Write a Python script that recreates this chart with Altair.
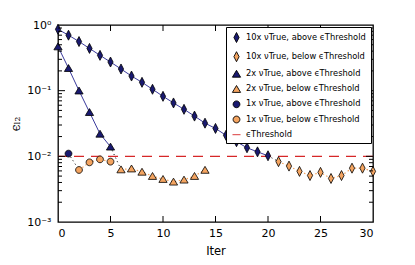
import altair as alt
import pandas as pd

# ---- data ----
x10_above_x = list(range(0, 21))
x10_above_y = [0.86, 0.70, 0.56, 0.44, 0.345, 0.273, 0.214, 0.167, 0.134, 0.105,
               0.082, 0.065, 0.052, 0.041, 0.032, 0.0266, 0.0209, 0.0167, 0.0135,
               0.0117, 0.0102]
x10_below_x = list(range(21, 31))
x10_below_y = [0.0083, 0.0071, 0.0059, 0.0051, 0.0057, 0.0046, 0.0051, 0.0066,
               0.0066, 0.0059]
x2_above_x = list(range(0, 6))
x2_above_y = [0.47, 0.22, 0.10, 0.047, 0.022, 0.014]
x2_below_x = list(range(6, 15))
x2_below_y = [0.0063, 0.0065, 0.0058, 0.0050, 0.0045, 0.0041, 0.0044, 0.0050, 0.0062]
x1_above_x = [1]
x1_above_y = [0.011]
x1_below_x = [2, 3, 4, 5]
x1_below_y = [0.0062, 0.0081, 0.0090, 0.0083]
threshold = [0.01]

labels = [
    "10x \u03bdTrue, above \u03f5Threshold",
    "10x \u03bdTrue, below \u03f5Threshold",
    "2x \u03bdTrue, above \u03f5Threshold",
    "2x \u03bdTrue, below \u03f5Threshold",
    "1x \u03bdTrue, above \u03f5Threshold",
    "1x \u03bdTrue, below \u03f5Threshold",
    "\u03f5Threshold",
]
x_ticks = [0, 5, 10, 15, 20, 25, 30]
y_ticks = [0.001, 0.01, 0.1, 1]
y_minor = [k * 10.0 ** e for e in (-3, -2, -1) for k in range(2, 10)]

NAVY = "#191970"
ORANGE = "#f4a460"
RED = "#d62728"
LINE_NAVY = "#3a3a9c"

series = [
    (x10_above_x, x10_above_y, labels[0], "above", "10x"),
    (x10_below_x, x10_below_y, labels[1], "below", "10x"),
    (x2_above_x, x2_above_y, labels[2], "above", "2x"),
    (x2_below_x, x2_below_y, labels[3], "below", "2x"),
    (x1_above_x, x1_above_y, labels[4], "above", "1x"),
    (x1_below_x, x1_below_y, labels[5], "below", "1x"),
]
rows = []
for xs, ys, lab, kind, grp in series:
    for a, b in zip(xs, ys):
        rows.append({"x": a, "y": b, "series": lab, "kind": kind, "grp": grp})
df = pd.DataFrame(rows)

# connectors between last "above" and first "below" point of each group
conn = []
for i in range(0, 6, 2):
    xa, ya, _, _, grp = series[i]
    xb, yb, _, _, _ = series[i + 1]
    conn.append({"x": xa[-1], "y": ya[-1], "grp": grp})
    conn.append({"x": xb[0], "y": yb[0], "grp": grp})
conn_df = pd.DataFrame(conn)

W, H = 315, 197
xs_ = alt.Scale(domain=[0, 30], nice=False, zero=False)
ys_ = alt.Scale(type="log", domain=[0.001, 1], nice=False)

x_axis = alt.Axis(values=x_ticks, ticks=False, domain=False, grid=False,
                  labelPadding=5, titlePadding=7, labelFontSize=11,
                  titleFontSize=11.5, titleFontWeight="normal",
                  labelFont="DejaVu Sans", titleFont="DejaVu Sans",
                  labelColor="black", titleColor="black")
y_axis = alt.Axis(values=y_ticks, ticks=False, domain=False, grid=False,
                  labelPadding=7, titlePadding=4, labelFontSize=11,
                  titleFontSize=12, titleFontWeight="normal",
                  labelFont="DejaVu Sans", titleFont="DejaVu Serif",
                  labelColor="black", titleColor="black",
                  labelExpr="'10' + (datum.value >= 1 ? '\u2070' : datum.value >= 0.1 ? '\u207b\u00b9' : datum.value >= 0.01 ? '\u207b\u00b2' : '\u207b\u00b3')")


def X(field):
    return alt.X(field, scale=xs_, title="Iter", axis=x_axis)


def Y(field):
    return alt.Y(field, scale=ys_, title="\u03f5\u2097\u2082", axis=y_axis)


DIAMOND = "M0,-1L0.52,0L0,1L-0.52,0Z"
TRI = "M0,-0.72L0.82,0.66L-0.82,0.66Z"
CIRC = "M-0.68,0A0.68,0.68 0 1,0 0.68,0A0.68,0.68 0 1,0 -0.68,0Z"
STROKE = "M-0.8,0L0.8,0"

leg = alt.Legend(title=None)
fill_enc = alt.Fill("series:N", scale=alt.Scale(domain=labels,
                    range=[NAVY, ORANGE, NAVY, ORANGE, NAVY, ORANGE, "transparent"]),
                    legend=leg)
shape_enc = alt.Shape("series:N", scale=alt.Scale(domain=labels,
                      range=[DIAMOND, DIAMOND, TRI, TRI, CIRC, CIRC, STROKE]),
                      legend=leg)
stroke_enc = alt.Stroke("series:N", scale=alt.Scale(domain=labels,
                        range=["black"] * 6 + [RED]), legend=leg)

thr = alt.Chart(pd.DataFrame({"t": threshold})).mark_rule(
    color=RED, strokeWidth=1.3, strokeDash=[10, 7]).encode(y=Y("t:Q"))

lines_above = alt.Chart(df).transform_filter(alt.datum.kind == "above").mark_line(
    color=LINE_NAVY, strokeWidth=1).encode(
    x=X("x:Q"), y=Y("y:Q"), detail="series:N")
lines_below = alt.Chart(df).transform_filter(alt.datum.kind == "below").mark_line(
    color=ORANGE, strokeWidth=1.2, strokeDash=[1.5, 2.5]).encode(
    x=X("x:Q"), y=Y("y:Q"), detail="series:N")
conn_lines = alt.Chart(conn_df).mark_line(
    color="black", strokeWidth=1, strokeDash=[1, 3]).encode(
    x=X("x:Q"), y=Y("y:Q"), detail="grp:N")

points = alt.Chart(df).mark_point(filled=True, size=100, strokeWidth=0.8,
                                  opacity=1).encode(
    x=X("x:Q"), y=Y("y:Q"),
    fill=fill_enc, shape=shape_enc, stroke=stroke_enc)

# inward ticks (matplotlib classic style)
xt = pd.DataFrame({"v": x_ticks[1:-1]})
yt = pd.DataFrame({"v": y_ticks[1:-1]})
ym = pd.DataFrame({"v": y_minor})
tick_style = dict(color="black", strokeWidth=1)
t_bottom = alt.Chart(xt).mark_rule(**tick_style).encode(x=X("v:Q"), y=alt.value(H), y2=alt.value(H - 6))
t_top = alt.Chart(xt).mark_rule(**tick_style).encode(x=X("v:Q"), y=alt.value(0), y2=alt.value(6))
t_left = alt.Chart(yt).mark_rule(**tick_style).encode(y=Y("v:Q"), x=alt.value(0), x2=alt.value(7))
t_right = alt.Chart(yt).mark_rule(**tick_style).encode(y=Y("v:Q"), x=alt.value(W), x2=alt.value(W - 7))
m_left = alt.Chart(ym).mark_rule(**tick_style).encode(y=Y("v:Q"), x=alt.value(0), x2=alt.value(4))
m_right = alt.Chart(ym).mark_rule(**tick_style).encode(y=Y("v:Q"), x=alt.value(W), x2=alt.value(W - 4))

chart = alt.layer(
    thr, lines_above, lines_below, conn_lines, points,
    t_bottom, t_top, t_left, t_right, m_left, m_right,
).properties(
    width=W, height=H,
    autosize=alt.AutoSizeParams(type="none"),
    padding={"left": 50, "top": 17, "right": 10, "bottom": 40},
).configure_view(
    stroke="black", strokeWidth=1.3
).configure_legend(
    orient="top-right", offset=2, strokeColor="black", fillColor="white",
    padding=5, labelFont="DejaVu Sans", labelFontSize=8.3, labelColor="black",
    symbolSize=100, rowPadding=4.2, symbolStrokeWidth=0.9, cornerRadius=0,
    labelLimit=200, symbolOpacity=1,
)

chart.save("out.html", embed_options={"renderer": "svg", "actions": False})
